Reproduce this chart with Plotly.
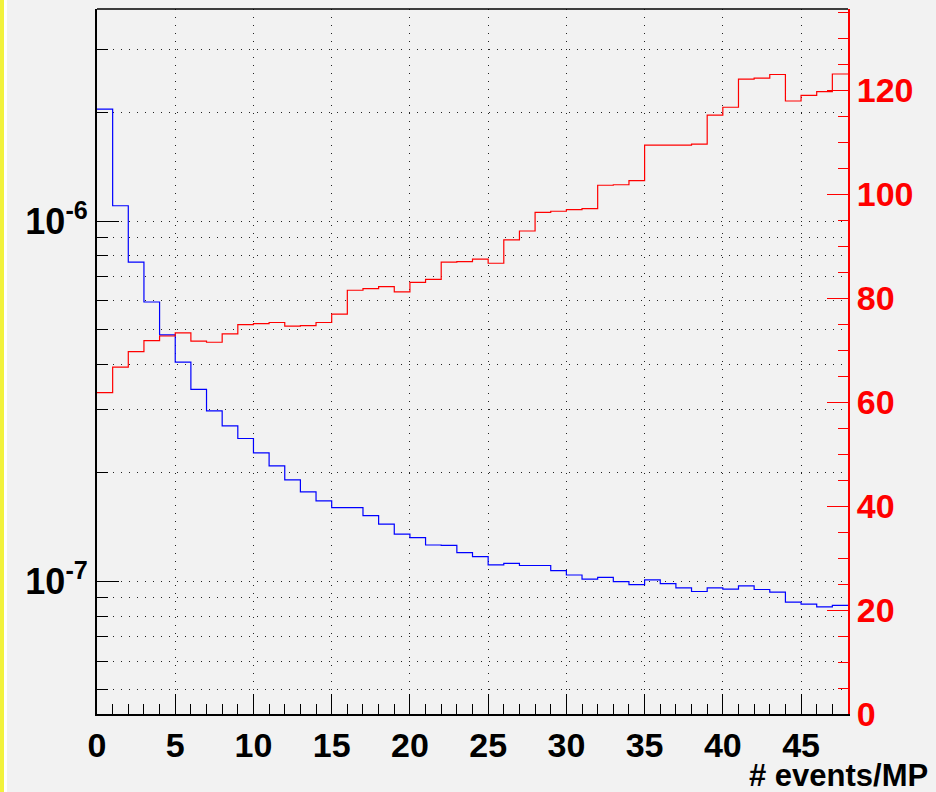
import plotly.graph_objects as go

# ---- data ----
bin_low = list(range(48))          # lower edges of unit-width bins
bin_width = 1

blue_values = [2.047e-6, 1.103e-6, 7.69e-7, 5.96e-7, 4.83e-7, 4.06e-7, 3.41e-7, 2.97e-7,
               2.70e-7, 2.49e-7, 2.27e-7, 2.09e-7, 1.91e-7, 1.77e-7, 1.67e-7, 1.60e-7,
               1.60e-7, 1.52e-7, 1.44e-7, 1.35e-7, 1.32e-7, 1.26e-7, 1.257e-7, 1.20e-7,
               1.17e-7, 1.11e-7, 1.12e-7, 1.105e-7, 1.105e-7, 1.07e-7, 1.04e-7, 1.013e-7,
               1.024e-7, 9.97e-8, 9.78e-8, 1.008e-7, 9.84e-8, 9.58e-8, 9.36e-8, 9.58e-8,
               9.50e-8, 9.70e-8, 9.48e-8, 9.32e-8, 8.74e-8, 8.63e-8, 8.48e-8, 8.56e-8]

red_values = [61.8, 66.7, 69.7, 71.8, 72.7, 73.3, 71.7, 71.5, 73.1, 74.9, 75.1, 75.3,
              74.6, 74.7, 75.3, 76.9, 81.5, 81.8, 82.2, 81.2, 83.0, 83.6, 86.9, 87.0,
              87.5, 86.7, 91.2, 92.9, 96.5, 96.7, 97.0, 97.2, 101.7, 101.8, 102.6, 109.4,
              109.4, 109.4, 109.6, 115.2, 116.7, 122.1, 122.3, 123.0, 117.9, 119.0, 119.7, 123.1]

x_ticks = [0, 5, 10, 15, 20, 25, 30, 35, 40, 45]
left_ticks = [1e-7, 1e-6]
left_ticktext = ["10<sup>-7</sup>", "10<sup>-6</sup>"]
left_minor = [5e-8, 6e-8, 7e-8, 8e-8, 9e-8,
              2e-7, 3e-7, 4e-7, 5e-7, 6e-7, 7e-7, 8e-7, 9e-7,
              2e-6, 3e-6]
right_ticks = [0, 20, 40, 60, 80, 100, 120]
x_title = "# events/MP"

# ---- figure ----
edges = bin_low + [bin_low[-1] + bin_width]
W, H = 936, 792
L, R, T, B = 97, 88, 9, 78
pw, ph = W - L - R, H - T - B

font_family = "Liberation Sans, Arial, Helvetica, sans-serif"
grid_dash = "1px,7px"

fig = go.Figure()
fig.add_trace(go.Scatter(x=edges, y=blue_values + [blue_values[-1]], mode="lines",
                         line=dict(color="#0000ff", width=1.2, shape="hv"),
                         yaxis="y", showlegend=False, hoverinfo="skip"))
fig.add_trace(go.Scatter(x=edges, y=red_values + [red_values[-1]], mode="lines",
                         line=dict(color="#ff0000", width=1.2, shape="hv"),
                         yaxis="y2", showlegend=False, hoverinfo="skip"))

fig.update_layout(
    width=W, height=H,
    margin=dict(l=L, r=R, t=T, b=B, pad=0),
    paper_bgcolor="#f2f2f2", plot_bgcolor="#f2f2f2",
    font=dict(family=font_family, color="black"),
    xaxis=dict(range=[0, 48], tickmode="array", tickvals=x_ticks,
               ticks="inside", ticklen=20, tickwidth=1, tickcolor="black",
               showline=True, linecolor="black", linewidth=2,
               showgrid=True, gridcolor="#222", gridwidth=1, griddash=grid_dash,
               zeroline=False,
               tickfont=dict(size=34, family=font_family, weight="bold", color="black"),
               minor=dict(tickmode="linear", tick0=0, dtick=1, ticks="inside",
                          ticklen=10, tickwidth=1, tickcolor="black", showgrid=False)),
    yaxis=dict(type="log", range=[-7.369, -5.411], tickmode="array",
               tickvals=left_ticks, ticktext=left_ticktext,
               ticks="inside", ticklen=22, tickwidth=1, tickcolor="black",
               showline=True, linecolor="black", linewidth=2,
               showgrid=True, gridcolor="#222", gridwidth=1, griddash=grid_dash,
               zeroline=False,
               tickfont=dict(size=36, family=font_family, weight="bold", color="black"),
               minor=dict(tickmode="array", tickvals=left_minor, ticks="inside",
                          ticklen=11, tickwidth=1, tickcolor="black",
                          showgrid=True, gridcolor="#222", gridwidth=1, griddash=grid_dash)),
    yaxis2=dict(overlaying="y", side="right", anchor="x", range=[0, 135.6],
                tickmode="array", tickvals=right_ticks,
                ticks="inside", ticklen=21, tickwidth=1, tickcolor="#ff0000",
                showline=True, linecolor="#ff0000", linewidth=2,
                showgrid=False, zeroline=False,
                tickfont=dict(size=34, family=font_family, weight="bold", color="#ff0000"),
                minor=dict(tickmode="linear", tick0=0, dtick=5, ticks="inside",
                           ticklen=10, tickwidth=1, tickcolor="#ff0000", showgrid=False)),
    shapes=[
        # top frame line
        dict(type="line", xref="paper", yref="paper", x0=0, x1=1, y0=1, y1=1,
             line=dict(color="black", width=1.5)),
        # yellow stripe at left page edge
        dict(type="rect", xref="paper", yref="paper",
             x0=-L / pw, x1=(4 - L) / pw, y0=-B / ph, y1=1 + T / ph,
             fillcolor="#f2f23c", line=dict(width=0), layer="above"),
        dict(type="rect", xref="paper", yref="paper",
             x0=(4 - L) / pw, x1=(7 - L) / pw, y0=-B / ph, y1=1 + T / ph,
             fillcolor="#ffffff", line=dict(width=0), layer="above"),
    ],
    annotations=[
        dict(text=x_title, xref="paper", yref="paper",
             x=(930 - L) / pw, y=(714 - 776) / ph, xanchor="right", yanchor="middle",
             showarrow=False,
             font=dict(size=31, family=font_family, weight="bold", color="black")),
    ],
)

fig.write_html("out.html")
